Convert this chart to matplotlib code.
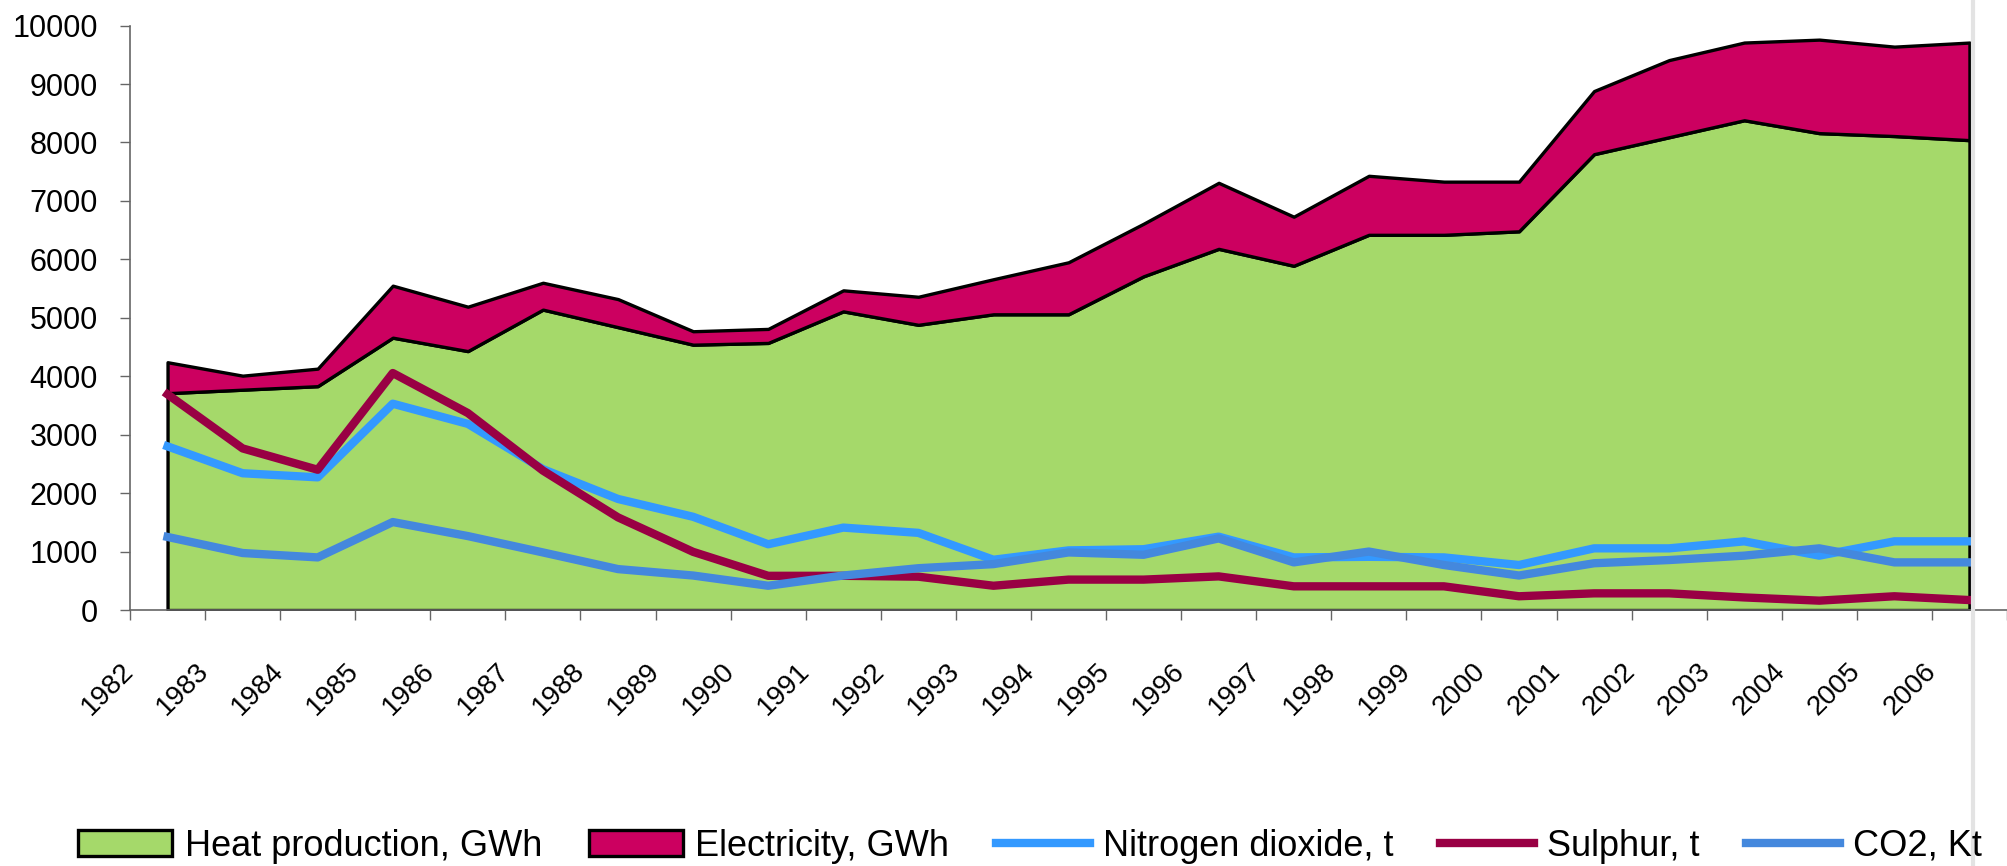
import numpy as np
import matplotlib
matplotlib.use("Agg")
import matplotlib.pyplot as plt
from matplotlib.lines import Line2D
from matplotlib.transforms import ScaledTranslation

plt.rcParams["font.family"] = ["Liberation Sans", "DejaVu Sans"]

# ── data ────────────────────────────────────────────────────────────────────
years = [str(y) for y in range(1982, 2007)]

heat_gwh = [3710, 3770, 3830, 4660, 4430, 5140, 4840, 4540, 4570, 5110,
            4880, 5060, 5060, 5710, 6180, 5890, 6420, 6420, 6480, 7800,
            8090, 8380, 8160, 8110, 8040]
electricity_gwh = [530, 240, 300, 890, 760, 460, 480, 230, 240, 360,
                   480, 600, 890, 900, 1130, 840, 1010, 910, 850, 1080,
                   1320, 1330, 1600, 1530, 1670]
no2_t = [2800, 2340, 2270, 3530, 3185, 2410, 1900, 1595, 1125, 1410,
         1320, 860, 1020, 1040, 1255, 900, 910, 900, 770, 1055,
         1055, 1175, 930, 1175, 1175]
sulphur_t = [3690, 2765, 2400, 4055, 3370, 2385, 1585, 995, 585, 585,
             570, 415, 520, 520, 575, 405, 405, 405, 235, 285,
             285, 215, 160, 235, 170]
co2_kt = [1250, 975, 900, 1505, 1265, 985, 700, 590, 415, 590,
          715, 785, 985, 945, 1225, 815, 1000, 770, 590, 800,
          855, 930, 1055, 815, 815]

# ── figure ──────────────────────────────────────────────────────────────────
W, H = 2007, 866
fig = plt.figure(figsize=(W / 100, H / 100), dpi=100)
ax = fig.add_axes([130 / W, (H - 610) / H, 1 - 130 / W, (610 - 25.6) / H])

x = np.arange(len(years))
heat = np.array(heat_gwh)
total = heat + np.array(electricity_gwh)

# stacked areas with black outlines
h_heat = ax.fill_between(x, 0, heat, facecolor="#A5D96A", edgecolor="black",
                         linewidth=2.4, zorder=1)
h_el = ax.fill_between(x, heat, total, facecolor="#CC0060", edgecolor="black",
                       linewidth=2.4, zorder=1)

# emission lines on top
h_no2, = ax.plot(x, no2_t, color="#3399FF", lw=6, zorder=2)
h_s, = ax.plot(x, sulphur_t, color="#990044", lw=6, zorder=3)
h_co2, = ax.plot(x, co2_kt, color="#4488DD", lw=6, zorder=4)

ax.set_xlim(-0.5, 24.5)
ax.set_ylim(0, 10000)
ax.set_yticks(np.arange(0, 10001, 1000))

# tick marks sit between categories, year labels hang off those marks
ax.set_xticks(np.arange(len(years) + 1) - 0.5)
ax.set_xticklabels(years + [""], rotation=45, ha="right", va="center",
                   rotation_mode="anchor")
shift = ScaledTranslation(8 / 100, 0, fig.dpi_scale_trans)
for lab in ax.get_xticklabels():
    lab.set_transform(lab.get_transform() + shift)

for side in ("top", "right"):
    ax.spines[side].set_visible(False)
for side in ("left", "bottom"):
    ax.spines[side].set_color("#666666")
    ax.spines[side].set_linewidth(1.2)

ax.tick_params(axis="y", direction="out", length=7.2, width=1, color="#666666",
               labelsize=22, pad=16)
ax.tick_params(axis="x", direction="out", length=7.2, width=1, color="#666666",
               labelsize=20, pad=34)

fig.legend([h_heat, h_el, h_no2, h_s, h_co2],
           ["Heat production, GWh", "Electricity, GWh", "Nitrogen dioxide, t",
            "Sulphur, t", "CO2, Kt"],
           loc="center left", bbox_to_anchor=(60 / W, 20 / H), ncol=5,
           frameon=False, fontsize=26, borderpad=0, handlelength=2.6,
           handleheight=0.75, handletextpad=0.35, columnspacing=1.3)

# thin grey border where the original was cut off
fig.add_artist(Line2D([1973 / W, 1973 / W], [0, 1], transform=fig.transFigure,
                      color="#e3e3e3", lw=3))

fig.savefig("out.png", dpi=100)
